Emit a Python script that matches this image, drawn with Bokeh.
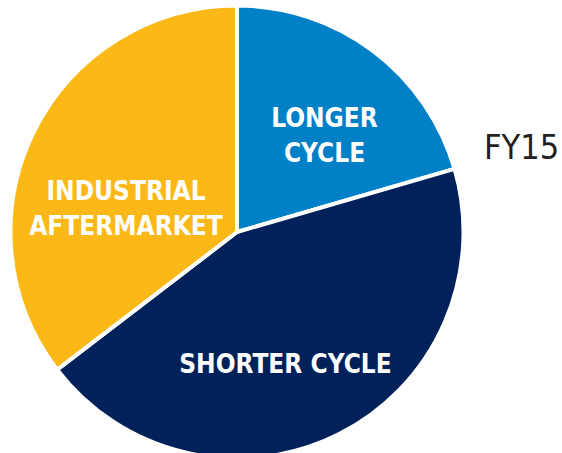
import math
from bokeh.plotting import figure
from bokeh.models import ColumnDataSource, Label
from bokeh.embed import file_html
from bokeh.resources import INLINE

# Data
segments = ["LONGER CYCLE", "SHORTER CYCLE", "INDUSTRIAL AFTERMARKET"]
shares = [20.5, 44.1, 35.4]
colors = ["#0080C6", "#00215A", "#FBB817"]
label_lines = [["LONGER", "CYCLE"], ["SHORTER CYCLE"], ["INDUSTRIAL", "AFTERMARKET"]]
title_text = "FY15"

W, H = 562, 453
cx, cy, r = 236.5, 221.5, 226.5
FONT = "DejaVu Sans Condensed"

total = sum(shares)
starts, ends = [], []
cum = 0.0
for s in shares:
    a0 = math.pi / 2 - 2 * math.pi * (cum + s) / total
    a1 = math.pi / 2 - 2 * math.pi * cum / total
    starts.append(a0)
    ends.append(a1)
    cum += s

src = ColumnDataSource(dict(start=starts, end=ends, color=colors, seg=segments))

p = figure(width=W, height=H, x_range=(0, W), y_range=(0, H),
           output_backend="svg", toolbar_location=None, min_border=0)
p.axis.visible = False
p.grid.visible = False
p.outline_line_color = None
p.background_fill_color = "white"
p.border_fill_color = "white"

p.wedge(x=cx, y=cy, radius=r, start_angle="start", end_angle="end",
        direction="anticlock", fill_color="color", line_color="white",
        line_width=4, source=src)

# label positions (offsets from pie center, screen pixels)
label_pos = [(87.5, 97.0), (48.5, -132.0), (-111.0, 24.0)]
line_gap = 35
for lines, (dx, dy) in zip(label_lines, label_pos):
    n = len(lines)
    for i, t in enumerate(lines):
        yy = cy + dy + (n - 1) * line_gap / 2 - i * line_gap
        p.add_layout(Label(x=cx + dx, y=yy, text=t, text_align="center",
                           text_baseline="middle", text_color="white",
                           text_font=FONT,
                           text_font_style="bold", text_font_size="26px"))

p.add_layout(Label(x=521, y=H - 146, text=title_text, text_align="center",
                   text_baseline="middle", text_color="#231F20",
                   text_font=FONT, text_font_size="34px"))

open("out.html", "w").write(file_html(p, INLINE))
